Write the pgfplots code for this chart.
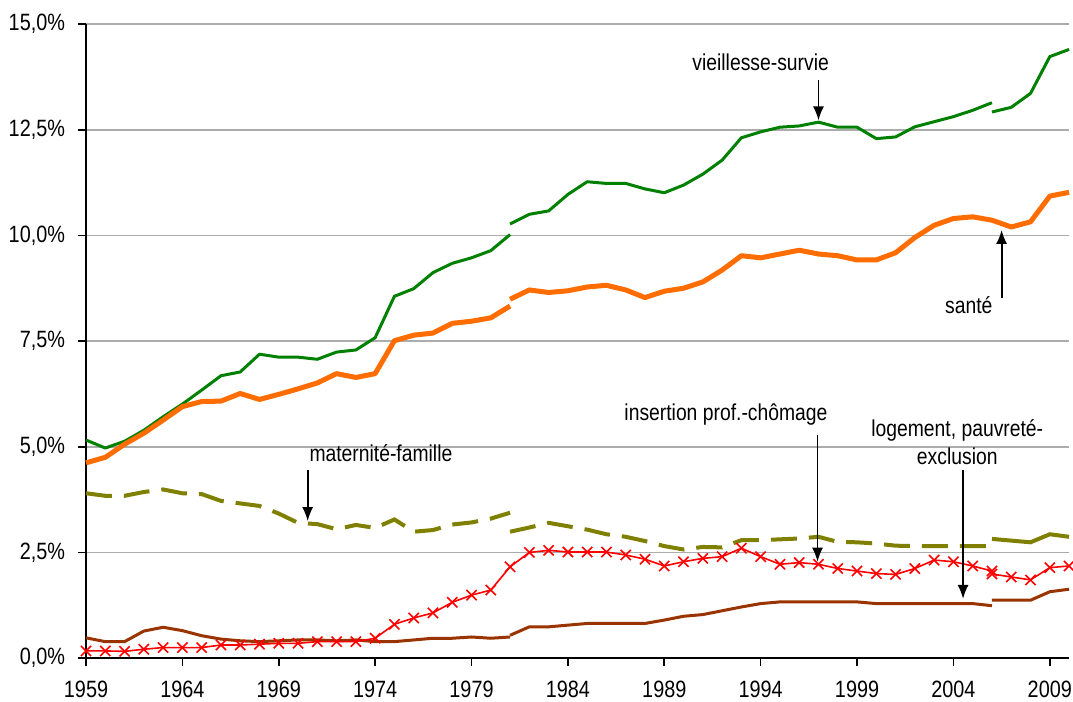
\documentclass[border=0pt]{standalone}
\usepackage{fontspec}
\setmainfont{Liberation Sans}[FakeStretch=0.84]
\usepackage{pgfplots}
\pgfplotsset{compat=1.18}
\usetikzlibrary{arrows.meta}
\definecolor{cGreen}{RGB}{0,128,0}
\definecolor{cOrange}{RGB}{255,108,0}
\definecolor{cOlive}{RGB}{128,128,0}
\definecolor{cRed}{RGB}{255,0,0}
\definecolor{cBrown}{RGB}{153,51,0}
\begin{document}
\begin{tikzpicture}
\begin{axis}[
  scale only axis, width=491.5pt, height=317pt,
  xmin=1959, xmax=2010, ymin=0, ymax=15,
  axis x line*=bottom, axis y line*=left,
  xtick={1959,1964,...,2009},
  xticklabels={1959,1964,1969,1974,1979,1984,1989,1994,1999,2004,2009},
  ytick={0,2.5,5,7.5,10,12.5,15},
  yticklabels={{0,0\%},{2,5\%},{5,0\%},{7,5\%},{10,0\%},{12,5\%},{15,0\%}},
  ymajorgrids, grid style={gray!65, line width=0.8pt},
  tick align=outside, major tick length=4pt,
  tick style={black, line width=0.8pt},
  axis line style={black, line width=1pt},
  tick label style={font=\fontsize{11.8}{13}\selectfont},
  xticklabel style={yshift=-4pt},
  yticklabel style={xshift=-3pt},
  clip=false,
]
\coordinate (bbSW) at (rel axis cs:-0.0875,-0.0678);
\coordinate (bbNE) at (rel axis cs:1.004,1.038);
% vieillesse-survie
\pgfplotsset{gstyle/.style={cGreen, line width=1.5pt, line join=round}}
\addplot[gstyle] coordinates {(1959,5.16)(1960,4.97)(1961,5.13)(1962,5.39)(1963,5.71)(1964,6.01)(1965,6.34)(1966,6.68)(1967,6.77)(1968,7.19)(1969,7.12)(1970,7.12)(1971,7.07)(1972,7.24)(1973,7.29)(1974,7.58)(1975,8.56)(1976,8.74)(1977,9.12)(1978,9.34)(1979,9.47)(1980,9.64)(1981,10.02)};
\addplot[gstyle] coordinates {(1981,10.27)(1982,10.50)(1983,10.58)(1984,10.97)(1985,11.27)(1986,11.23)(1987,11.23)(1988,11.10)(1989,11.01)(1990,11.19)(1991,11.45)(1992,11.78)(1993,12.31)(1994,12.45)(1995,12.56)(1996,12.59)(1997,12.68)(1998,12.56)(1999,12.56)(2000,12.29)(2001,12.33)(2002,12.57)(2003,12.69)(2004,12.81)(2005,12.96)(2006,13.14)};
\addplot[gstyle] coordinates {(2006,12.92)(2007,13.03)(2008,13.36)(2009,14.23)(2010,14.40)};
% sante
\pgfplotsset{ostyle/.style={cOrange, line width=2.5pt, line join=round}}
\addplot[ostyle] coordinates {(1959,4.62)(1960,4.75)(1961,5.06)(1962,5.32)(1963,5.63)(1964,5.95)(1965,6.07)(1966,6.08)(1967,6.26)(1968,6.12)(1969,6.24)(1970,6.37)(1971,6.51)(1972,6.73)(1973,6.64)(1974,6.73)(1975,7.51)(1976,7.64)(1977,7.69)(1978,7.92)(1979,7.97)(1980,8.05)(1981,8.33)};
\addplot[ostyle] coordinates {(1981,8.49)(1982,8.71)(1983,8.65)(1984,8.69)(1985,8.78)(1986,8.82)(1987,8.71)(1988,8.53)(1989,8.68)(1990,8.75)(1991,8.90)(1992,9.18)(1993,9.52)(1994,9.47)(1995,9.56)(1996,9.65)(1997,9.56)(1998,9.52)(1999,9.42)(2000,9.42)(2001,9.59)(2002,9.95)(2003,10.24)(2004,10.40)(2005,10.44)(2006,10.36)(2007,10.20)(2008,10.32)(2009,10.93)(2010,11.02)};
% maternite-famille
\pgfplotsset{mstyle/.style={cOlive, line width=2pt, dash pattern=on 13pt off 6pt}}
\addplot[mstyle] coordinates {(1959,3.90)(1960,3.84)(1961,3.84)(1962,3.93)(1963,3.99)(1964,3.90)(1965,3.88)(1966,3.72)(1967,3.66)(1968,3.60)(1969,3.42)(1970,3.20)(1971,3.17)(1972,3.05)(1973,3.15)(1974,3.08)(1975,3.28)(1976,2.99)(1977,3.03)(1978,3.16)(1979,3.21)(1980,3.30)(1981,3.44)};
\addplot[mstyle] coordinates {(1981,2.99)(1982,3.09)(1983,3.20)(1984,3.12)(1985,3.04)(1986,2.93)(1987,2.87)(1988,2.77)(1989,2.65)(1990,2.57)(1991,2.63)(1992,2.62)(1993,2.79)(1994,2.79)(1995,2.81)(1996,2.83)(1997,2.87)(1998,2.75)(1999,2.74)(2000,2.71)(2001,2.66)(2002,2.65)(2003,2.65)(2004,2.65)(2005,2.65)(2006,2.65)};
\addplot[cOlive, line width=2pt] coordinates {(2006,2.82)(2007,2.78)(2008,2.74)(2009,2.93)(2010,2.87)};
% logement
\pgfplotsset{bstyle/.style={cBrown, line width=1.5pt, line join=round}}
\addplot[bstyle] coordinates {(1959,0.48)(1960,0.39)(1961,0.39)(1962,0.64)(1963,0.73)(1964,0.65)(1965,0.53)(1966,0.45)(1967,0.41)(1968,0.39)(1969,0.41)(1970,0.43)(1971,0.43)(1972,0.41)(1973,0.43)(1974,0.39)(1975,0.39)(1976,0.43)(1977,0.47)(1978,0.47)(1979,0.50)(1980,0.47)(1981,0.50)};
\addplot[bstyle] coordinates {(1981,0.54)(1982,0.74)(1983,0.74)(1984,0.78)(1985,0.82)(1986,0.82)(1987,0.82)(1988,0.82)(1989,0.90)(1990,0.99)(1991,1.03)(1992,1.12)(1993,1.21)(1994,1.29)(1995,1.33)(1996,1.33)(1997,1.33)(1998,1.33)(1999,1.33)(2000,1.29)(2001,1.29)(2002,1.29)(2003,1.29)(2004,1.29)(2005,1.29)(2006,1.24)};
\addplot[bstyle] coordinates {(2006,1.37)(2007,1.37)(2008,1.37)(2009,1.57)(2010,1.63)};
% insertion prof.-chomage
\pgfplotsset{rstyle/.style={cRed, line width=0.8pt, mark=x, mark size=3.6pt, mark options={line width=0.8pt}}}
\addplot[rstyle] coordinates {(1959,0.17)(1960,0.17)(1961,0.16)(1962,0.21)(1963,0.25)(1964,0.25)(1965,0.25)(1966,0.31)(1967,0.31)(1968,0.33)(1969,0.35)(1970,0.35)(1971,0.39)(1972,0.39)(1973,0.39)(1974,0.47)(1975,0.80)(1976,0.95)(1977,1.07)(1978,1.32)(1979,1.49)(1980,1.61)(1981,2.16)(1982,2.50)(1983,2.55)(1984,2.51)(1985,2.51)(1986,2.51)(1987,2.44)(1988,2.34)(1989,2.18)(1990,2.28)(1991,2.36)(1992,2.40)(1993,2.60)(1994,2.40)(1995,2.22)(1996,2.26)(1997,2.22)(1998,2.12)(1999,2.06)(2000,2.00)(2001,1.98)(2002,2.12)(2003,2.32)(2004,2.28)(2005,2.18)(2006,2.06)};
\addplot[rstyle] coordinates {(2006,1.99)(2007,1.92)(2008,1.85)(2009,2.14)(2010,2.18)};
% annotations
\tikzset{ann/.style={font=\fontsize{11.5}{14}\selectfont, inner sep=0pt, align=center},
         aarr/.style={-{Latex[length=7pt,width=5.5pt]}, line width=0.9pt, black}}
\node[ann] at (axis cs:1994.0,14.1) {vieillesse-survie};
\draw[aarr] (axis cs:1997,13.67) -- (axis cs:1997,12.72);
\node[ann] at (axis cs:2004.8,8.35) {santé};
\draw[aarr] (axis cs:2006.5,8.52) -- (axis cs:2006.5,10.13);
\node[ann] at (axis cs:1974.3,4.85) {maternité-famille};
\draw[aarr] (axis cs:1970.5,4.45) -- (axis cs:1970.5,3.24);
\node[ann] at (axis cs:1992.2,5.77) {insertion prof.-chômage};
\draw[aarr] (axis cs:1996.95,5.28) -- (axis cs:1996.95,2.28);
\node[ann] at (axis cs:2004.2,5.11) {logement, pauvreté-\\exclusion};
\draw[aarr] (axis cs:2004.5,4.45) -- (axis cs:2004.5,1.40);
\end{axis}
\pgfresetboundingbox
\path[use as bounding box] (bbSW) rectangle (bbNE);
\end{tikzpicture}
\end{document}
